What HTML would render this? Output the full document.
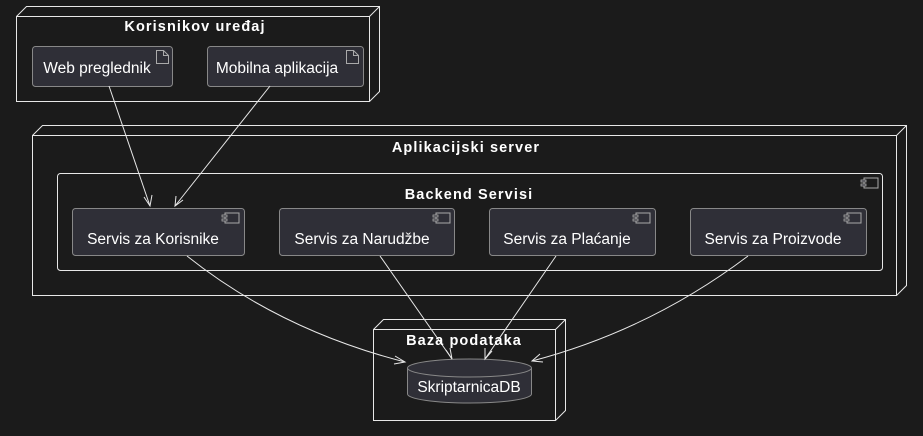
<!DOCTYPE html>
<html><head><meta charset="utf-8"><style>
body{margin:0;background:#1b1b1b;}
svg{display:block;font-family:"Liberation Sans",sans-serif;}
</style></head><body>
<svg width="923" height="436" viewBox="0 0 923 436">
<rect width="923" height="436" fill="#1b1b1b"/>
<defs>
<g id="ci"><rect x="3" y="0" width="14" height="10" fill="none" stroke="#aaa" stroke-width="1"/><rect x="0" y="2" width="5" height="2" fill="#2f2f37" stroke="#aaa" stroke-width="0.8"/><rect x="0" y="6" width="5" height="2" fill="#2f2f37" stroke="#aaa" stroke-width="0.8"/></g>
</defs>
<g fill="none" stroke="#e8e8e8" stroke-width="1">
<path d="M16.5 101.5V16.5L26.5 6.5H379.5V91.5L369.5 101.5ZM16.5 16.5H369.5L379.5 6.5M369.5 16.5V101.5"/>
<path d="M32.5 295.5V135.5L42.5 125.5H906.5V285.5L896.5 295.5ZM32.5 135.5H896.5L906.5 125.5M896.5 135.5V295.5"/>
<path d="M373.5 420.5V329.5L383.5 319.5H565.5V410.5L555.5 420.5ZM373.5 329.5H555.5L565.5 319.5M555.5 329.5V420.5"/>
</g>
<rect x="57.5" y="173.5" width="825" height="97" rx="3" fill="none" stroke="#e8e8e8"/>
<use href="#ci" x="861" y="178"/>
<g fill="#2f2f37" stroke="#888" stroke-width="1">
<rect x="32.5" y="46.5" width="140" height="40" rx="3"/>
<rect x="207.5" y="46.5" width="156" height="40" rx="3"/>
<rect x="72.5" y="208.5" width="172" height="47" rx="3"/>
<rect x="279.5" y="208.5" width="175" height="47" rx="3"/>
<rect x="489.5" y="208.5" width="166" height="47" rx="3"/>
<rect x="690.5" y="208.5" width="176" height="47" rx="3"/>
</g>
<g fill="none" stroke="#aaa">
<path d="M156.5 50.5h7l5 5v8h-12z M163.5 50.5v5h5"/>
<path d="M346.5 50.5h7l5 5v8h-12z M353.5 50.5v5h5"/>
</g>
<use href="#ci" x="222" y="213"/>
<use href="#ci" x="433" y="213"/>
<use href="#ci" x="633" y="213"/>
<use href="#ci" x="844" y="213"/>
<path d="M407.5 368 A62 9 0 0 1 531.5 368 V394 A62 9 0 0 1 407.5 394 Z" fill="#2f2f37" stroke="#888"/>
<path d="M407.5 368 A62 9 0 0 0 531.5 368" fill="none" stroke="#888"/>
<g fill="none" stroke="#e8e8e8" stroke-width="1">
<path d="M109 86L150 206"/><path d="M144 197L150 206L152 195"/>
<path d="M270 86L175 206"/><path d="M176 196L175 206L183 200"/>
<path d="M187 256Q280 330 405 362"/><path d="M395 356L405 362L394 364"/>
<path d="M380 256L452 359"/><path d="M446 350L452 359L450 348"/>
<path d="M556 256L485 359"/><path d="M485 348L485 359L492 351"/>
<path d="M748 256Q650 330 532 361"/><path d="M540 354L532 361L543 362"/>
</g>
<g fill="#fff" font-weight="bold" font-size="14.5" text-anchor="middle" letter-spacing="1.1">
<text x="195" y="31">Korisnikov uređaj</text>
<text x="466" y="152">Aplikacijski server</text>
<text x="469" y="199">Backend Servisi</text>
<text x="464" y="345">Baza podataka</text>
</g>
<g fill="#fff" font-size="15.5" text-anchor="middle">
<text x="97" y="73">Web preglednik</text>
<text x="277" y="73">Mobilna aplikacija</text>
<text x="153" y="244">Servis za Korisnike</text>
<text x="362" y="244">Servis za Narudžbe</text>
<text x="567" y="244">Servis za Plaćanje</text>
<text x="773" y="244">Servis za Proizvode</text>
<text x="469" y="392">SkriptarnicaDB</text>
</g>
</svg>
</body></html>
